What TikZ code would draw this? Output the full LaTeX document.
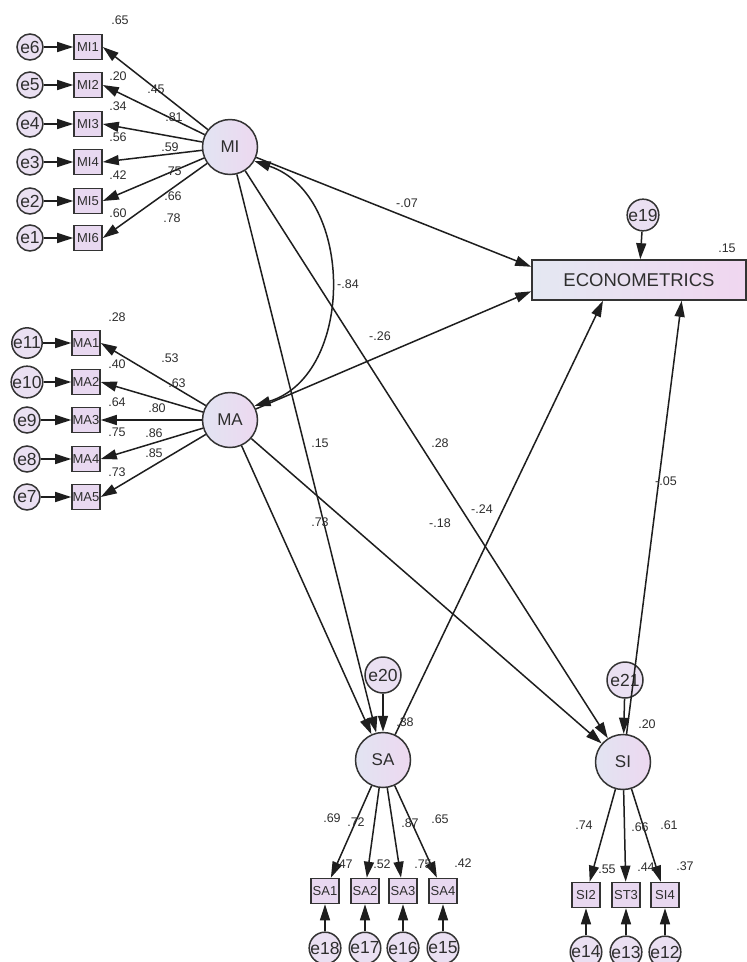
\documentclass[tikz,border=0pt]{standalone}
\usepackage{fontspec}
\setmainfont{Liberation Sans}
\usetikzlibrary{arrows.meta}
\definecolor{edgec}{HTML}{333333}
\definecolor{linec}{HTML}{1E1E1E}
\definecolor{txt}{HTML}{2E2E2E}
\definecolor{latL}{HTML}{E2E4F2}
\definecolor{latR}{HTML}{EDD8F0}
\definecolor{errf}{HTML}{EAE0F2}
\definecolor{obsf}{HTML}{E8D8F0}
\definecolor{ecoL}{HTML}{E4E8F2}
\definecolor{ecoR}{HTML}{F0D6F0}
\tikzset{
 lat/.style={circle, draw=edgec, line width=1.5pt, left color=latL, right color=latR, minimum size=55pt, inner sep=0pt, font=\fontsize{17}{17}\selectfont, text=txt},
 err/.style={circle, draw=edgec, line width=1.5pt, fill=errf, minimum size=26pt, inner sep=0pt, font=\fontsize{17.5}{17.5}\selectfont, text=txt},
 obs/.style={rectangle, draw=edgec, line width=1.6pt, fill=obsf, minimum width=28pt, minimum height=25pt, inner sep=0pt, font=\fontsize{13}{13}\selectfont, text=txt},
 lbl/.style={inner sep=0pt, font=\fontsize{12.5}{12.5}\selectfont, text=txt},
 arr/.style={-{Triangle[length=16pt,width=10pt]}, line width=1.5pt, draw=linec},
 darr/.style={{Triangle[length=16pt,width=10pt]}-{Triangle[length=16pt,width=10pt]}, line width=1.5pt, draw=linec},
}
\begin{document}
\begin{tikzpicture}[x=1pt,y=-1pt]
\useasboundingbox[fill=white] (0,0) rectangle (747,962);

% latent variables
\node[lat] (MI) at (230,147) {MI};
\node[lat] (MA) at (230,420) {MA};
\node[lat] (SA) at (383,760) {SA};
\node[lat] (SI) at (623,762) {SI};
\node[rectangle, draw=edgec, line width=1.6pt, left color=ecoL, right color=ecoR, minimum width=214pt, minimum height=40pt, inner sep=0pt, font=\fontsize{18.5}{18.5}\selectfont, text=txt] (ECON) at (639,280) {ECONOMETRICS};

% MI indicators
\foreach \n/\e/\y in {1/6/47, 2/5/85, 3/4/124, 4/3/162, 5/2/201, 6/1/238}{
  \node[obs] (MI\n) at (88,\y) {MI\n};
  \node[err] (eMI\n) at (30,\y) {e\e};
}
% MA indicators
\foreach \n/\e/\y in {1/11/343, 2/10/382, 3/9/420, 4/8/459, 5/7/497}{
  \node[obs] (MA\n) at (86,\y) {MA\n};
  \node[err] (eMA\n) at (27,\y) {e\e};
}
% SA indicators
\foreach \n/\e/\x in {1/18/325, 2/17/365, 3/16/403, 4/15/443}{
  \node[obs] (SA\n) at (\x,891) {SA\n};
  \node[err] (eSA\n) at (\x,948) {e\e};
}
% SI indicators
\node[obs] (SI2) at (586,895) {SI2};
\node[obs] (ST3) at (626,895) {ST3};
\node[obs] (SI4) at (665,895) {SI4};
\node[err] (e14) at (586,952) {e14};
\node[err] (e13) at (626,952) {e13};
\node[err] (e12) at (665,952) {e12};

% structural errors
\node[err, minimum size=30pt] (e19) at (643,215) {e19};
\node[err, minimum size=36pt] (e20) at (383,675) {e20};
\node[err, minimum size=36pt] (e21) at (625,680) {e21};

% measurement arrows
\foreach \n in {1,...,6}{
  \draw[arr] (MI) -- (MI\n.east);
  \draw[arr] (eMI\n) -- (MI\n);
}
\foreach \n in {1,...,5}{
  \draw[arr] (MA) -- (MA\n.east);
  \draw[arr] (eMA\n) -- (MA\n);
}
\foreach \n in {1,...,4}{
  \draw[arr] (SA) -- (SA\n);
  \draw[arr] (eSA\n) -- (SA\n);
}
\draw[arr] (SI) -- (SI2);
\draw[arr] (SI) -- (ST3);
\draw[arr] (SI) -- (SI4);
\draw[arr] (e14) -- (SI2);
\draw[arr] (e13) -- (ST3);
\draw[arr] (e12) -- (SI4);

% structural arrows
\draw[darr] (MI.-30) .. controls (355,195) and (355,375) .. (MA.30);
\draw[arr] (MI) -- (ECON.173);
\draw[arr] (MA) -- (ECON.186);
\draw[arr] (MI) -- (SA);
\draw[arr] (MA) -- (SA);
\draw[arr] (MI) -- (SI);
\draw[arr] (MA) -- (SI);
\draw[arr] (SA) -- (ECON.210.5);
\draw[arr] (SI) -- (ECON.-26);
\draw[arr] (e19) -- (ECON);
\draw[arr] (e20) -- (SA);
\draw[arr] (e21) -- (SI);

% MI labels
\node[lbl] (l1) at (120,20) {.65};
\node[lbl] (l2) at (156,89) {.45};
\node[lbl] (l3) at (118,76) {.20};
\node[lbl] (l4) at (174,117) {.81};
\node[lbl] (l5) at (118,106) {.34};
\node[lbl] (l6) at (118,137) {.56};
\node[lbl] (l7) at (170,147) {.59};
\node[lbl] (l8) at (173,171) {.75};
\node[lbl] (l9) at (118,175) {.42};
\node[lbl] (l10) at (173,196) {.66};
\node[lbl] (l11) at (118,213) {.60};
\node[lbl] (l12) at (172,218) {.78};
% MA labels
\node[lbl] (m1) at (117,317) {.28};
\node[lbl] (m2) at (170,358) {.53};
\node[lbl] (m3) at (117,364) {.40};
\node[lbl] (m4) at (177,383) {.63};
\node[lbl] (m5) at (117,402) {.64};
\node[lbl] (m6) at (157,408) {.80};
\node[lbl] (m7) at (117,432) {.75};
\node[lbl] (m8) at (154,433) {.86};
\node[lbl] (m9) at (154,453) {.85};
\node[lbl] (m10) at (117,472) {.73};
% structural labels
\node[lbl] (s1) at (407,203) {-.07};
\node[lbl] (s2) at (348,284) {-.84};
\node[lbl] (s3) at (380,336) {-.26};
\node[lbl] (s4) at (320,443) {.15};
\node[lbl] (s5) at (440,443) {.28};
\node[lbl] (s6) at (320,522) {.73};
\node[lbl] (s7) at (482,509) {-.24};
\node[lbl] (s8) at (440,523) {-.18};
\node[lbl] (s9) at (666,481) {-.05};
\node[lbl] (s10) at (727,248) {.15};
\node[lbl] (s11) at (405,722) {.38};
\node[lbl] (s12) at (647,724) {.20};
% SA labels
\node[lbl] (a1) at (332,818) {.69};
\node[lbl] (a2) at (356,822) {.72};
\node[lbl] (a3) at (410,823) {.87};
\node[lbl] (a4) at (440,819) {.65};
\node[lbl] (a5) at (344,864) {.47};
\node[lbl] (a6) at (382,864) {.52};
\node[lbl] (a7) at (423,864) {.75};
\node[lbl] (a8) at (463,863) {.42};
% SI labels
\node[lbl] (b1) at (584,825) {.74};
\node[lbl] (b2) at (640,827) {.66};
\node[lbl] (b3) at (669,825) {.61};
\node[lbl] (b4) at (607,869) {.55};
\node[lbl] (b5) at (646,867) {.44};
\node[lbl] (b6) at (685,866) {.37};
\end{tikzpicture}
\end{document}
